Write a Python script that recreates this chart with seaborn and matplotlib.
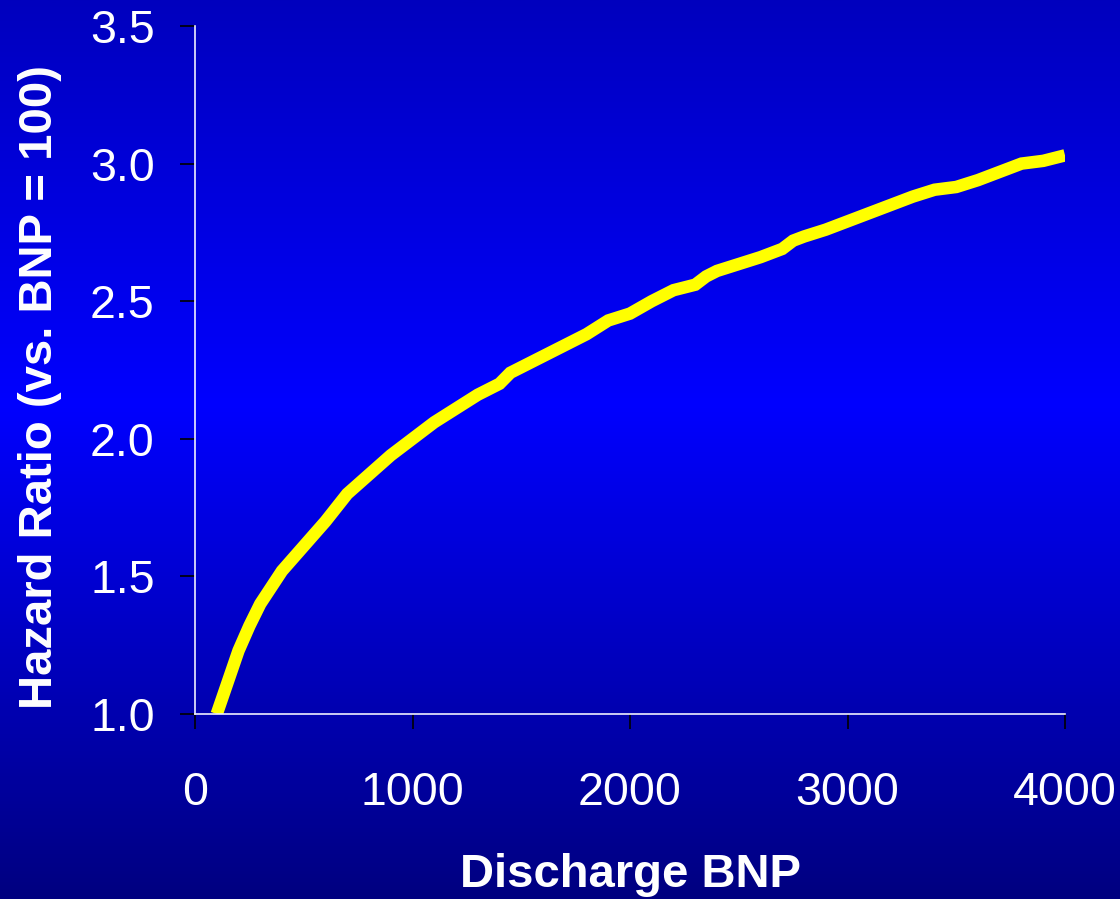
import numpy as np
import pandas as pd
import matplotlib
matplotlib.use("Agg")
import matplotlib.pyplot as plt
import seaborn as sns
from matplotlib.colors import LinearSegmentedColormap

# ---- data ----
bnp = [100, 200, 250, 300, 400, 500, 600, 700, 800, 900, 1000, 1100, 1200, 1300,
       1400, 1450, 1500, 1600, 1700, 1800, 1900, 2000, 2100, 2200, 2300, 2350, 2400,
       2500, 2600, 2700, 2750, 2800, 2900, 3000, 3100, 3200, 3300, 3400, 3500, 3600,
       3700, 3800, 3900, 4000]
hazard = [1.00, 1.23, 1.32, 1.40, 1.52, 1.61, 1.70, 1.80, 1.87, 1.94, 2.00, 2.06,
          2.11, 2.16, 2.20, 2.24, 2.26, 2.30, 2.34, 2.38, 2.43, 2.455, 2.50, 2.54,
          2.56, 2.59, 2.61, 2.635, 2.66, 2.69, 2.72, 2.735, 2.76, 2.79, 2.82, 2.85,
          2.88, 2.905, 2.915, 2.94, 2.97, 3.00, 3.01, 3.03]
x_ticks = [0, 1000, 2000, 3000, 4000]
y_ticks = [1.0, 1.5, 2.0, 2.5, 3.0, 3.5]
y_tick_labels = ["1.0", "1.5", "2.0", "2.5", "3.0", "3.5"]
x_label = "Discharge BNP"
y_label = "Hazard Ratio (vs. BNP = 100)"

df = pd.DataFrame({"bnp": bnp, "hazard": hazard})

sns.set_theme(style="white")
plt.rcParams['font.family'] = ['Liberation Sans', 'DejaVu Sans']

W, H = 1120, 899
fig = plt.figure(figsize=(W / 100, H / 100), dpi=100)

# background gradient
bg = fig.add_axes([0, 0, 1, 1], zorder=0)
cmap = LinearSegmentedColormap.from_list(
    "bgblue", [(0.0, (0, 0, 128 / 255)), (0.55, (0, 0, 1.0)), (1.0, (0, 0, 190 / 255))])
grad = np.linspace(0, 1, 512).reshape(-1, 1)
bg.imshow(grad, aspect="auto", cmap=cmap, origin="lower", extent=[0, 1, 0, 1])
bg.set_axis_off()

ax = fig.add_axes([195 / W, 1 - 714 / H, 870 / W, 688 / H], zorder=1)
ax.set_facecolor("none")
sns.lineplot(data=df, x="bnp", y="hazard", ax=ax, color="#FFFF00",
             linewidth=9.0, solid_capstyle="butt", solid_joinstyle="miter")

ax.set_xlim(0, 4000)
ax.set_ylim(1.0, 3.5)
ax.set_xticks(x_ticks)
ax.set_xticklabels([str(v) for v in x_ticks])
ax.set_yticks(y_ticks)
ax.set_yticklabels(y_tick_labels)

for side in ["top", "right"]:
    ax.spines[side].set_visible(False)
for side in ["left", "bottom"]:
    ax.spines[side].set_color("#EEEEFF")
    ax.spines[side].set_linewidth(1.2)

ax.tick_params(axis="both", which="major", direction="out", length=11, width=1.2,
               color="black", labelcolor="white", labelsize=33.5)
ax.tick_params(axis="x", pad=30, bottom=True)
ax.tick_params(axis="y", pad=18, left=True)

ax.set_xlabel(x_label, fontsize=34, fontweight="bold", color="white")
ax.set_ylabel(y_label, fontsize=34, fontweight="bold", color="white")
ax.xaxis.set_label_coords(0.5, (714 - 875) / 688)
ax.yaxis.set_label_coords((40 - 195) / 870, (714 - 387) / 688)
ax.xaxis.label.set_va("center")
ax.yaxis.label.set_va("center")

fig.savefig("out.png", dpi=100)
